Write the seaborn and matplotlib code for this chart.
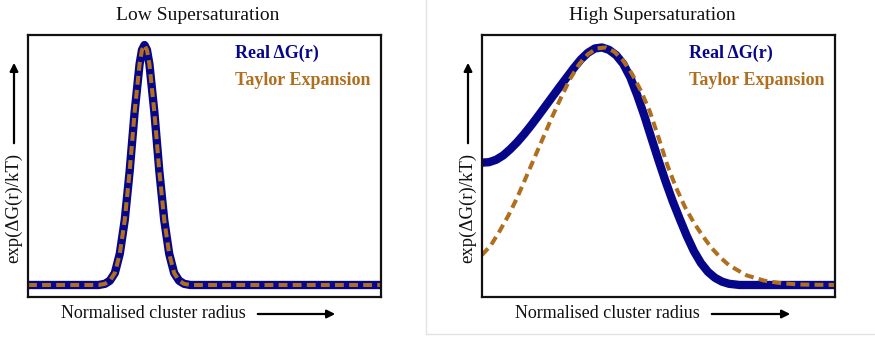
import numpy as np
import pandas as pd
import matplotlib
matplotlib.use("Agg")
import matplotlib.pyplot as plt
from matplotlib.lines import Line2D
import seaborn as sns

# Low supersaturation: narrow barrier, Taylor expansion sits on the real curve
low_r = [0.0, 2.0, 2.18, 2.32, 2.46, 2.60, 2.74, 2.88, 3.02, 3.16, 3.23, 3.30,
         3.37, 3.44, 3.58, 3.72, 3.86, 4.00, 4.14, 4.28, 4.42, 4.6, 10.0]
low_real = [0.0, 0.0, 0.005, 0.018, 0.05, 0.13, 0.27, 0.475, 0.72, 0.92, 0.98, 1.0,
            0.98, 0.92, 0.72, 0.475, 0.27, 0.13, 0.05, 0.018, 0.005, 0.0, 0.0]
low_taylor = list(low_real)

# High supersaturation: broad barrier, Taylor expansion deviates
high_r = [0.0, 0.2, 0.4, 0.6, 0.8, 1.0, 1.2, 1.4, 1.6, 1.8, 2.0, 2.2, 2.4, 2.6,
          2.8, 3.0, 3.2, 3.4, 3.6, 3.8, 4.0, 4.2, 4.4, 4.6, 4.8, 5.0, 5.2, 5.4,
          5.6, 5.8, 6.0, 6.2, 6.4, 6.6, 6.8, 7.0, 7.3, 10.0]
high_real = [0.510, 0.512, 0.522, 0.540, 0.566, 0.596, 0.630, 0.667, 0.706, 0.746,
             0.786, 0.826, 0.865, 0.904, 0.940, 0.968, 0.986, 0.990, 0.980, 0.958,
             0.922, 0.866, 0.790, 0.705, 0.612, 0.520, 0.432, 0.350, 0.276, 0.205,
             0.142, 0.092, 0.055, 0.030, 0.014, 0.005, 0.0, 0.0]
taylor_r = [0.0, 0.25, 0.5, 0.75, 1.0, 1.25, 1.5, 1.75, 2.0, 2.25, 2.5, 2.75, 3.0,
            3.25, 3.5, 3.75, 4.0, 4.25, 4.5, 4.75, 5.0, 5.25, 5.5, 5.75, 6.0, 6.25,
            6.5, 6.75, 7.0, 7.5, 8.0, 8.5, 9.0, 10.0]
high_taylor = [0.125, 0.165, 0.225, 0.29, 0.365, 0.45, 0.535, 0.62, 0.705, 0.785,
               0.86, 0.92, 0.962, 0.986, 0.99, 0.972, 0.935, 0.88, 0.81, 0.725,
               0.615, 0.50, 0.405, 0.325, 0.26, 0.205, 0.155, 0.115, 0.082, 0.04,
               0.018, 0.007, 0.002, 0.0]

titles = ["Low Supersaturation", "High Supersaturation"]
legend_labels = ["Real \u0394G(r)", "Taylor Expansion"]
xlabel = "Normalised cluster radius"
ylabel = "exp(\u0394G(r)/kT)"

navy = "#06068a"
brown = "#b06f1f"

sns.set_theme(style="white")
plt.rcParams["font.family"] = ["Liberation Serif", "DejaVu Serif"]

fig = plt.figure(figsize=(8.75, 3.39), dpi=100)
W, H = 875.0, 339.0

panels = [
    (28, low_r, low_real, low_r, low_taylor, 198),
    (482, high_r, high_real, taylor_r, high_taylor, 652),
]

for i, (x0, rr, real, tr, taylor, tcx) in enumerate(panels):
    ax = fig.add_axes([x0 / W, 42 / H, 353 / W, 262 / H])
    df_real = pd.DataFrame({"r": rr, "g": real})
    df_tay = pd.DataFrame({"r": tr, "g": taylor})
    sns.lineplot(data=df_real, x="r", y="g", ax=ax, color=navy, linewidth=6.0,
                 estimator=None, sort=False, solid_capstyle="butt",
                 solid_joinstyle="round")
    sns.lineplot(data=df_tay, x="r", y="g", ax=ax, color=brown, linewidth=2.9,
                 estimator=None, sort=False, linestyle=(0, (2.2, 1.3)),
                 dash_capstyle="butt")
    ax.set_xlim(0, 10)
    ax.set_ylim(-0.05, 1.042)
    ax.set_xticks([])
    ax.set_yticks([])
    ax.set_xlabel("")
    ax.set_ylabel("")
    for s in ax.spines.values():
        s.set_color("#111111")
        s.set_linewidth(1.6)

    ax.text(0.585, 0.931, legend_labels[0], transform=ax.transAxes, color=navy,
            fontsize=13, va="center", ha="left", fontweight="bold")
    ax.text(0.585, 0.828, legend_labels[1], transform=ax.transAxes, color=brown,
            fontsize=13, va="center", ha="left", fontweight="bold")

    # title
    fig.text(tcx / W, 1 - 15 / H, titles[i], ha="center", va="center",
             fontsize=14, color="#111111")

    # x label with arrow
    if i == 0:
        lx, a0, a1, yx = 153, 255, 338, 14
    else:
        lx, a0, a1, yx = 607, 709, 793, 468
    fig.text(lx / W, 1 - 314 / H, xlabel, ha="center", va="center",
             fontsize=13, color="#111111")
    fig.add_artist(plt.Annotation("", xy=(a1 / W, 1 - 314 / H), xytext=(a0 / W, 1 - 314 / H),
                                  xycoords="figure fraction", textcoords="figure fraction",
                                  arrowprops=dict(arrowstyle="-|>", color="black", lw=1.6,
                                                  mutation_scale=12)))
    # y label with arrow
    fig.text(yx / W, 1 - 208 / H, ylabel, ha="center", va="center", rotation=90,
             fontsize=13.5, color="#111111")
    fig.add_artist(plt.Annotation("", xy=(yx / W, 1 - 60 / H), xytext=(yx / W, 1 - 146 / H),
                                  xycoords="figure fraction", textcoords="figure fraction",
                                  arrowprops=dict(arrowstyle="-|>", color="black", lw=1.6,
                                                  mutation_scale=12)))

# light divider between the two panels
fig.add_artist(Line2D([426 / W, 426 / W], [1 - 334 / H, 1.0], color="#e2e2e2", lw=1.0))
fig.add_artist(Line2D([426 / W, 1.0], [1 - 334 / H, 1 - 334 / H], color="#e2e2e2", lw=1.0))

fig.savefig("out.png", dpi=100)
